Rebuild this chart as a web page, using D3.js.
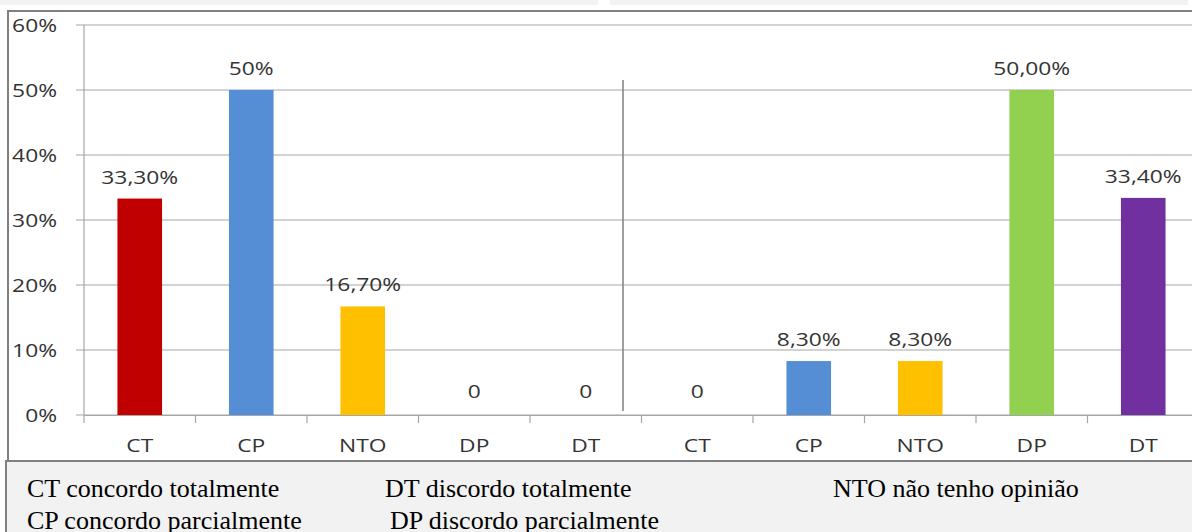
<!DOCTYPE html>
<html>
<head>
<meta charset="utf-8">
<script src="https://cdn.jsdelivr.net/npm/d3@7"></script>
<style>
  html, body { margin: 0; padding: 0; background: #fff; }
  svg { display: block; }
</style>
</head>
<body>
<div id="grafico"></div>
<script>
// Dados (dois grupos de 5 respostas)
const categorias = ['CT', 'CP', 'NTO', 'DP', 'DT', 'CT', 'CP', 'NTO', 'DP', 'DT'];
const valores = [33.3, 50, 16.7, 0, 0, 0, 8.3, 8.3, 50, 33.4];
const rotulos = ['33,30%', '50%', '16,70%', '0', '0', '0', '8,30%', '8,30%', '50,00%', '33,40%'];
const yTicks = [0, 10, 20, 30, 40, 50, 60];
const cores = { CT: '#c00000', CP: '#558ed5', NTO: '#ffc000', DP: '#92d050', DT: '#7030a0' };
const legenda1 = ['CT concordo totalmente', 'DT discordo totalmente', 'NTO não tenho opinião'];
const legenda2 = ['CP concordo parcialmente', 'DP discordo parcialmente'];

const width = 1192;
const height = 532;
const plot = { left: 84, right: 1199, top: 25, bottom: 415 };
const sx = 1.2; // texto do original está esticado na horizontal
const fonte = '"Open Sans", sans-serif';

const svg = d3.select('#grafico')
  .append('svg')
  .attr('width', width)
  .attr('height', height);

// faixa cinza no topo
svg.append('rect').attr('x', 0).attr('y', 0).attr('width', 598).attr('height', 5).attr('fill', '#f2f2f2');
svg.append('rect').attr('x', 610).attr('y', 0).attr('width', 578).attr('height', 5).attr('fill', '#f2f2f2');

// moldura do gráfico
svg.append('rect')
  .attr('x', 8).attr('y', 11)
  .attr('width', 1200).attr('height', 450)
  .attr('fill', '#fff')
  .attr('stroke', '#808080')
  .attr('stroke-width', 2);

// Escalas
const idx = d3.range(categorias.length);
const x = d3.scaleBand()
  .domain(idx)
  .range([plot.left, plot.right])
  .paddingInner(0.6)
  .paddingOuter(0.3);
const step = x.step();
const y = d3.scaleLinear().domain([0, 60]).range([plot.bottom, plot.top]);

// linhas de grade
svg.append('g')
  .selectAll('line')
  .data(yTicks)
  .join('line')
  .attr('x1', plot.left - 8)
  .attr('x2', plot.right)
  .attr('y1', d => y(d))
  .attr('y2', d => y(d))
  .attr('stroke', '#a6a6a6')
  .attr('stroke-width', 1.2);

// eixo Y (linha)
svg.append('line')
  .attr('x1', plot.left).attr('x2', plot.left)
  .attr('y1', y(60)).attr('y2', y(0))
  .attr('stroke', '#a6a6a6').attr('stroke-width', 1.2);

// rótulos do eixo Y
svg.append('g')
  .selectAll('text')
  .data(yTicks)
  .join('text')
  .attr('transform', d => `translate(57,${y(d) + 7}) scale(${sx},1)`)
  .attr('text-anchor', 'end')
  .attr('font-family', fonte)
  .attr('font-size', 19)
  .attr('fill', '#333')
  .text(d => d + '%');

// eixo X com marcas entre as categorias
const xAxis = d3.axisBottom(x)
  .tickSize(0)
  .tickFormat(i => categorias[i]);
const gx = svg.append('g')
  .attr('transform', `translate(0,${plot.bottom})`)
  .call(xAxis);
gx.select('.domain').attr('stroke', '#a6a6a6').attr('stroke-width', 1.2);
gx.selectAll('.tick text')
  .attr('y', 0)
  .attr('dy', 0)
  .attr('transform', `translate(0,37) scale(${sx},1)`)
  .attr('font-family', fonte)
  .attr('font-size', 19)
  .attr('fill', '#333');
svg.append('g')
  .selectAll('line')
  .data(d3.range(categorias.length + 1))
  .join('line')
  .attr('x1', i => plot.left + i * step)
  .attr('x2', i => plot.left + i * step)
  .attr('y1', plot.bottom)
  .attr('y2', plot.bottom + 8)
  .attr('stroke', '#a6a6a6')
  .attr('stroke-width', 1.2);

// Barras
svg.append('g')
  .selectAll('rect')
  .data(idx)
  .join('rect')
  .attr('x', i => x(i))
  .attr('y', i => y(valores[i]))
  .attr('width', x.bandwidth())
  .attr('height', i => y(0) - y(valores[i]))
  .attr('fill', i => cores[categorias[i]]);

// rótulos de dados
svg.append('g')
  .selectAll('text')
  .data(idx)
  .join('text')
  .attr('transform', i => `translate(${x(i) + x.bandwidth() / 2},${y(valores[i]) - (valores[i] === 0 ? 17 : 15)}) scale(${sx},1)`)
  .attr('text-anchor', 'middle')
  .attr('font-family', fonte)
  .attr('font-size', 19)
  .attr('fill', '#333')
  .text(i => rotulos[i]);

// linha separadora entre os dois grupos
svg.append('line')
  .attr('x1', 623).attr('x2', 623)
  .attr('y1', 80).attr('y2', 411)
  .attr('stroke', '#7f7f7f')
  .attr('stroke-width', 1.5);

// caixa da legenda
svg.append('rect')
  .attr('x', 6).attr('y', 461)
  .attr('width', 1200).attr('height', 80)
  .attr('fill', '#f2f2f2')
  .attr('stroke', '#808080')
  .attr('stroke-width', 2);

const colunas1 = [27, 385, 833];
const colunas2 = [27, 390];
const leg = svg.append('g')
  .attr('font-family', '"Liberation Serif", serif')
  .attr('font-size', 26)
  .attr('fill', '#000');
leg.selectAll('text.l1')
  .data(legenda1)
  .join('text')
  .attr('class', 'l1')
  .attr('x', (d, i) => colunas1[i])
  .attr('y', 497)
  .text(d => d);
leg.selectAll('text.l2')
  .data(legenda2)
  .join('text')
  .attr('class', 'l2')
  .attr('x', (d, i) => colunas2[i])
  .attr('y', 529)
  .text(d => d);
</script>
</body>
</html>
